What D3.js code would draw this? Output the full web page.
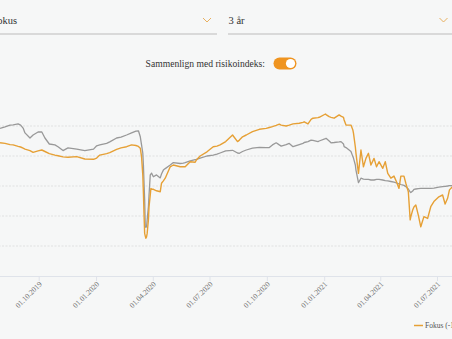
<!DOCTYPE html>
<html><head><meta charset="utf-8">
<script src="https://cdn.jsdelivr.net/npm/d3@7"></script>
<style>
html,body{margin:0;padding:0;background:#f6f7f7;overflow:hidden;}
svg{display:block;font-family:"Liberation Serif","DejaVu Serif",serif;}
</style></head><body>
<svg id="c" width="452" height="339"></svg>
<script>
const dates = ["2019-07-31","2019-08-08","2019-08-16","2019-08-21","2019-08-29","2019-09-02","2019-09-06","2019-09-09","2019-09-17","2019-09-22","2019-09-30","2019-10-06","2019-10-11","2019-10-18","2019-10-27","2019-11-01","2019-11-09","2019-11-17","2019-12-01","2019-12-14","2019-12-28","2020-01-02","2020-01-07","2020-01-18","2020-01-23","2020-02-03","2020-02-10","2020-02-19","2020-02-27","2020-03-05","2020-03-09","2020-03-12","2020-03-14","2020-03-16","2020-03-17","2020-03-18","2020-03-19","2020-03-20","2020-03-21","2020-03-22","2020-03-23","2020-03-25","2020-03-26","2020-03-28","2020-03-29","2020-03-30","2020-04-02","2020-04-07","2020-04-13","2020-04-15","2020-04-18","2020-04-21","2020-04-29","2020-05-04","2020-05-15","2020-05-20","2020-05-23","2020-05-31","2020-06-08","2020-06-10","2020-06-16","2020-06-27","2020-07-07","2020-07-13","2020-07-18","2020-07-27","2020-08-07","2020-08-15","2020-08-18","2020-08-23","2020-08-29","2020-09-08","2020-09-19","2020-09-30","2020-10-05","2020-10-10","2020-10-16","2020-10-21","2020-10-24","2020-11-01","2020-11-06","2020-11-12","2020-11-22","2020-11-28","2020-11-30","2020-12-06","2020-12-11","2020-12-14","2020-12-22","2020-12-24","2021-01-03","2021-01-04","2021-01-09","2021-01-12","2021-01-17","2021-01-25","2021-01-28","2021-02-01","2021-02-02","2021-02-05","2021-02-10","2021-02-13","2021-02-16","2021-02-17","2021-02-20","2021-02-21","2021-02-25","2021-03-01","2021-03-05","2021-03-09","2021-03-13","2021-03-17","2021-03-22","2021-03-26","2021-03-30","2021-04-05","2021-04-09","2021-04-13","2021-04-18","2021-04-23","2021-04-27","2021-05-01","2021-05-04","2021-05-09","2021-05-12","2021-05-16","2021-05-19","2021-05-20","2021-05-23","2021-05-25","2021-05-28","2021-06-01","2021-06-05","2021-06-10","2021-06-16","2021-06-21","2021-06-26","2021-07-04","2021-07-10","2021-07-14","2021-07-18","2021-07-21","2021-07-25","2021-07-31"];
const fokus = [14.4,14.2,13.8,13.7,13.2,13.0,12.6,12.3,11.8,11.2,11.7,12.0,11.5,10.8,10.3,10.1,9.7,9.6,9.8,9.0,8.9,9.3,10.3,10.8,11.1,12.2,12.7,13.1,13.7,13.5,13.2,12.6,9.8,3.7,-2.4,-9.7,-15.8,-16.7,-17.4,-17.0,-15.8,-11.3,-6.9,-3.0,-0.8,-1.0,-1.1,-1.6,-1.9,0.9,1.7,2.6,6.4,7.0,6.4,6.4,6.4,8.1,7.9,8.7,10.0,11.4,13.1,13.3,13.7,14.8,17.0,14.8,15.3,16.4,17.0,18.1,18.9,19.2,19.5,19.8,20.2,20.6,20.3,20.0,20.3,20.7,20.9,21.2,21.4,20.7,22.2,22.6,22.8,22.9,24.0,23.8,23.1,22.9,22.6,23.7,23.3,22.9,22.0,20.3,20.3,20.3,18.7,17.6,13.0,10.9,4.2,12.0,6.4,9.2,10.9,7.0,9.2,6.4,8.1,5.9,8.1,4.2,2.6,3.3,1.4,-0.8,3.3,3.3,0.9,-1.9,-11.3,-10.3,-8.0,-7.0,-6.3,-9.7,-13.6,-10.2,-10.8,-6.9,-5.2,-3.6,-3.0,-6.0,-4.1,-1.3,-0.4,0.0];
const risikoindeks = [19.2,19.7,20.3,20.4,20.7,20.3,19.3,17.7,16.0,17.0,18.0,18.0,16.0,14.0,13.7,13.1,11.8,12.7,12.3,11.8,12.3,13.4,13.7,14.2,14.7,16.0,16.3,17.0,17.7,18.3,18.4,16.4,13.7,11.0,7.0,1.0,-4.7,-13.6,-13.8,-13.6,-11.3,-6.9,-3.0,3.7,4.0,4.3,3.1,3.7,2.7,4.0,5.3,5.8,7.0,7.8,7.5,7.6,7.8,8.4,8.8,8.9,9.3,10.0,10.3,10.6,11.0,11.7,11.9,11.0,10.9,11.5,12.0,12.6,12.9,12.8,12.8,13.7,14.4,13.7,13.3,13.8,14.2,13.1,13.8,14.2,14.5,14.8,15.3,15.2,14.8,15.0,15.8,15.9,15.0,14.4,14.5,14.7,14.8,14.0,13.1,12.8,12.0,11.5,9.8,9.3,7.0,5.3,1.1,2.6,2.3,2.2,2.2,2.0,2.0,2.2,2.2,2.0,1.8,1.7,1.5,1.3,1.0,0.7,0.5,0.2,-0.2,-1.0,-2.0,-2.2,-1.7,-1.1,-1.0,-0.9,-0.8,-0.8,-0.8,-0.8,-0.7,-0.4,-0.2,-0.1,0.0,0.1,0.1,0.2];
const xTicks = ["01.10.2019","01.01.2020","01.04.2020","01.07.2020","01.10.2020","01.01.2021","01.04.2021","01.07.2021"];
const yTicks = [-30,-20,-10,0,10,20];
const legendLabel = "Fokus (-18,24 %)";

const parse = d3.timeParse("%Y-%m-%d");
const parseTick = d3.timeParse("%d.%m.%Y");
const svg = d3.select("#c");

// header controls
const orange = "#ef9420";
svg.append("text").attr("x",17).attr("y",24).attr("text-anchor","end").attr("font-size",10.5).attr("fill","#333").text("Fokus");
svg.append("text").attr("x",228.5).attr("y",24).attr("font-size",10.5).attr("fill","#333").text("3 år");
[[207,20],[443.5,20]].forEach(([cx,cy])=>{
  svg.append("path").attr("d",`M${cx-4},${cy-2}L${cx},${cy+2}L${cx+4},${cy-2}`).attr("fill","none").attr("stroke","#e8b060").attr("stroke-width",1);
});
svg.append("line").attr("x1",-5).attr("x2",217).attr("y1",34).attr("y2",34).attr("stroke","#cfcfcf").attr("stroke-width",1.5);
svg.append("line").attr("x1",228).attr("x2",460).attr("y1",34).attr("y2",34).attr("stroke","#cfcfcf").attr("stroke-width",1.5);
svg.append("text").attr("x",265).attr("y",66.5).attr("text-anchor","end").attr("font-size",9.6).attr("fill","#333").text("Sammenlign med risikoindeks:");
svg.append("rect").attr("x",273.5).attr("y",57.5).attr("width",23).attr("height",12).attr("rx",6).attr("fill",orange);
svg.append("circle").attr("cx",290.5).attr("cy",63.5).attr("r",4.6).attr("fill","#fff");

// scales
const x = d3.scaleTime().domain([parseTick("01.10.2019"), parseTick("01.07.2021")]).range([38.7, 437]);
const y = d3.scaleLinear().domain([-30,20]).range([276,126]);

// grid
const g = svg.append("g");
g.selectAll("line.grid").data(yTicks.filter(v=>v>-30)).join("line")
  .attr("x1",-5).attr("x2",460).attr("y1",d=>y(d)).attr("y2",d=>y(d))
  .attr("stroke","#dcdcdc").attr("stroke-width",0.8).attr("stroke-dasharray","2,1.5");

// x axis
const tickDates = xTicks.map(parseTick);
const ax = svg.append("g").attr("transform","translate(0,276)")
  .call(d3.axisBottom(x).tickValues(tickDates).tickSize(5).tickFormat(d3.timeFormat("%d.%m.%Y")));
ax.select(".domain").attr("d","M-5,0.5H460").attr("stroke","#dfe3ea").attr("stroke-width",1.2);
ax.selectAll(".tick line").attr("stroke","#dfe3ea");
ax.selectAll(".tick text").attr("font-family","Liberation Serif, serif").attr("font-size",7.5).attr("fill","#6f6f6f")
  .attr("text-anchor","end").attr("transform","translate(1.5,7) rotate(-45)").attr("dy","0.3em").attr("y",0).attr("x",0);

// lines
const pts = s => dates.map((d,i)=>({d:parse(d), v:s[i]}));
const line = d3.line().x(p=>x(p.d)).y(p=>y(p.v));
svg.append("path").datum(pts(risikoindeks)).attr("d",line).attr("fill","none").attr("stroke","#999").attr("stroke-width",1.3).attr("stroke-linejoin","round");
svg.append("path").datum(pts(fokus)).attr("d",line).attr("fill","none").attr("stroke","#e6a035").attr("stroke-width",1.4).attr("stroke-linejoin","round");

// legend
svg.append("line").attr("x1",414).attr("x2",423).attr("y1",325.5).attr("y2",325.5).attr("stroke","#e6a035").attr("stroke-width",1.5);
svg.append("text").attr("x",425).attr("y",328).attr("font-size",7.5).attr("fill","#555").text(legendLabel);
</script>
</body></html>
